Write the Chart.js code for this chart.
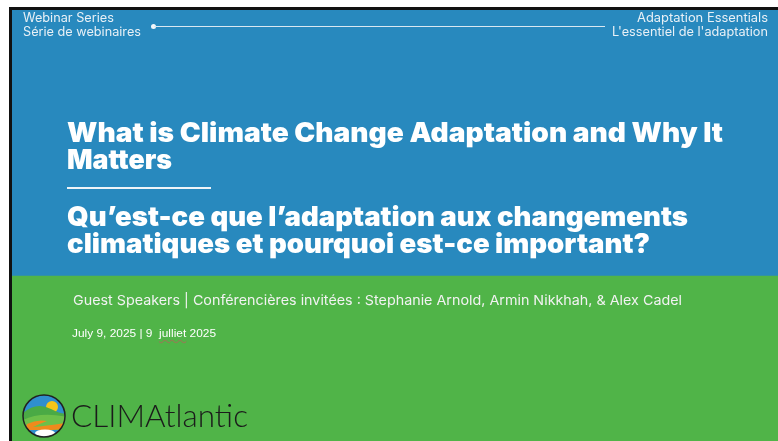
<!DOCTYPE html>
<html>
<head>
<meta charset="utf-8">
<script src="https://cdn.jsdelivr.net/npm/chart.js@4.4.1/dist/chart.umd.min.js"></script>
<style>
  html, body { margin: 0; padding: 0; background: #fff; }
  #slide { position: relative; width: 778px; height: 441px; overflow: hidden; background: #fff; }
  #frame { position: absolute; left: 9px; top: 7px; width: 769px; height: 434px; background: #111; }
  #wrap { position: absolute; left: 12px; top: 10px; width: 766px; height: 431px; }
  .t { position: absolute; white-space: nowrap; transform-origin: 0 0; }
  .hdr { font-family: "Inter", "Noto Sans", sans-serif; font-size: 12.5px; color: #e8f0f6; line-height: 14px; }
  .ttl { font-family: "Inter", "DejaVu Sans", sans-serif; font-weight: 900; font-size: 27px; color: #fff; line-height: 27px; }
  .spk { font-family: "Inter", "Noto Sans", sans-serif; font-size: 13.5px; color: #f2f2f2; }
  .date { font-family: "Liberation Sans", sans-serif; font-size: 11px; color: #fff; }
  .logo { font-family: "Lato", "Inter", sans-serif; font-weight: 300; font-size: 31px; color: #1b1b1b; }
</style>
</head>
<body>
<div id="slide">
  <div id="frame"></div>
  <div id="wrap"><canvas id="bands"></canvas></div>

  <div class="t hdr" style="left:23px; top:11px;" data-w="91">Webinar Series</div>
  <div class="t hdr" style="left:23px; top:25px;" data-w="118">Série de webinaires</div>
  <div class="t hdr" style="left:637px; top:11px;" data-w="131">Adaptation Essentials</div>
  <div class="t hdr" style="left:612px; top:25px;" data-w="156">L'essentiel de l'adaptation</div>
  <div style="position:absolute; left:151px; top:24px; width:5px; height:5px; border-radius:50%; background:#f3f7fa;"></div>
  <div style="position:absolute; left:154px; top:26px; width:451px; height:1px; background:#d9e8f2;"></div>

  <div class="t ttl" style="left:67px; top:119px;" data-w="656">What is Climate Change Adaptation and Why It</div>
  <div class="t ttl" style="left:67px; top:146px;" data-w="105">Matters</div>
  <div style="position:absolute; left:67px; top:187px; width:144px; height:2px; background:#eef4f8;"></div>
  <div class="t ttl" style="left:67px; top:203px;" data-w="621">Qu’est-ce que l’adaptation aux changements</div>
  <div class="t ttl" style="left:67px; top:230px;" data-w="583">climatiques et pourquoi est-ce important?</div>

  <div class="t spk" style="left:73px; top:292px;" data-w="609">Guest Speakers | Conférencières invitées : Stephanie Arnold, Armin Nikkhah, &amp; Alex Cadel</div>
  <div class="t date" style="left:72px; top:327px;" data-w="144">July 9, 2025 | 9&nbsp; <span style="text-decoration: underline wavy rgba(190,90,90,0.6); text-decoration-thickness:1px; text-underline-offset:2px;">julliet</span> 2025</div>

  <svg style="position:absolute; left:21px; top:393px;" width="46" height="46" viewBox="0 0 46 46">
    <defs><clipPath id="c"><circle cx="23" cy="23" r="21"/></clipPath></defs>
    <g clip-path="url(#c)">
      <rect x="0" y="0" width="46" height="46" fill="#2f8fcf"/>
      <circle cx="31" cy="14" r="6" fill="#f5c518"/>
      <path d="M0 22 Q14 8 30 16 T46 18 L46 46 L0 46 Z" fill="#4aaa45"/>
      <path d="M0 28 Q18 18 46 24 L46 46 L0 46 Z" fill="#6cc04a"/>
      <path d="M6 31 Q16 26 26 28 Q18 31 12 34 Q24 33 44 30 L44 36 Q22 38 4 37 Z" fill="#f08a1c"/>
      <rect x="0" y="37" width="46" height="9" fill="#2f8fcf"/>
      <ellipse cx="24" cy="40" rx="10" ry="3.5" fill="#fff"/>
    </g>
    <circle cx="23" cy="23" r="21" fill="none" stroke="#222" stroke-width="1.5"/>
  </svg>
  <div class="t logo" style="left:71px; top:396px;" data-w="177">CLIMAtlantic</div>
</div>

<script>
// Bandes de fond (bleu en haut, vert en bas), hauteur en pixels de la diapo
const slideRows = ['diapo'];
const greenBand = [165];
const blueBand = [266];
const bandColors = ['#50b448', '#2889be'];

const ctx = document.getElementById('bands').getContext('2d');
new Chart(ctx, {
  type: 'bar',
  data: {
    labels: slideRows,
    datasets: [
      { label: 'vert', data: greenBand, backgroundColor: bandColors[0], barPercentage: 1, categoryPercentage: 1 },
      { label: 'bleu', data: blueBand, backgroundColor: bandColors[1], barPercentage: 1, categoryPercentage: 1 }
    ]
  },
  options: {
    responsive: true,
    maintainAspectRatio: false,
    animation: false,
    layout: { padding: 0 },
    plugins: { legend: { display: false }, tooltip: { enabled: false } },
    scales: {
      x: { stacked: true, display: false },
      y: { stacked: true, display: false, min: 0, max: 431 }
    }
  }
});

// Ajuster la largeur des textes
function fitText() {
  document.querySelectorAll('[data-w]').forEach(el => {
    const w = el.getBoundingClientRect().width;
    const target = parseFloat(el.getAttribute('data-w'));
    if (w > 0) el.style.transform = 'scaleX(' + (target / w) + ')';
  });
}
fitText();
</script>
</body>
</html>
